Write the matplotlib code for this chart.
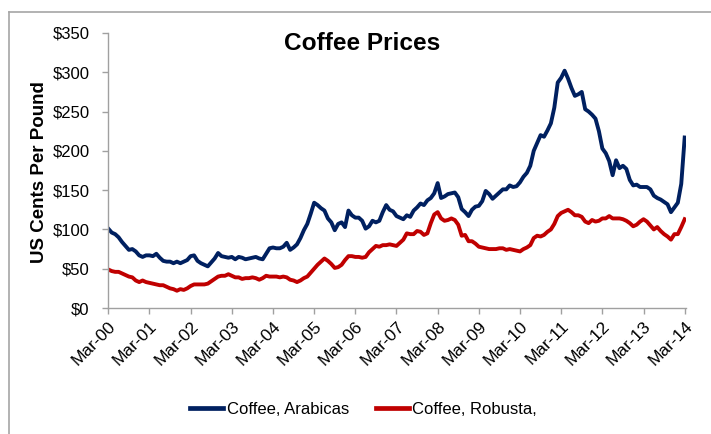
import matplotlib
matplotlib.use("Agg")
import matplotlib.pyplot as plt
from matplotlib.lines import Line2D
import numpy as np
import pandas as pd

# Monthly prices, US cents per pound, Mar-2000 .. Mar-2014
months = pd.date_range("2000-03-01", "2014-03-01", freq="MS")

arabica = [
    101, 96, 94, 90, 84, 79, 74, 75, 72, 67, 65, 67,
    67, 66, 69, 64, 60, 59, 59, 57, 59, 57, 59, 61,
    66, 67, 60, 57, 55, 53, 58, 63, 70, 66, 65, 64,
    65, 62, 65, 64, 62, 63, 64, 65, 63, 62, 69, 76,
    77, 76, 76, 78, 83, 74, 77, 81, 89, 99, 107, 120,
    134, 131, 127, 124, 114, 109, 99, 107, 109, 103, 124, 118,
    115, 115, 111, 101, 104, 111, 109, 111, 122, 131, 125, 123,
    117, 115, 113, 118, 116, 124, 128, 133, 131, 137, 140, 146,
    159, 140, 142, 145, 146, 147, 141, 126, 122, 117, 125, 129,
    130, 136, 149, 145, 139, 143, 147, 151, 151, 156, 154, 155,
    160, 167, 172, 181, 200, 210, 220, 218, 226, 235, 255, 287,
    293, 302, 292, 280, 270, 272, 275, 253, 250, 246, 241, 225,
    203, 197, 187, 169, 188, 178, 181, 177, 163, 156, 157, 154,
    154, 154, 151, 143, 140, 138, 135, 132, 122, 128, 134, 158,
    217,
]

robusta = [
    49, 47, 46, 46, 44, 42, 40, 39, 35, 33, 35, 33,
    32, 31, 30, 29, 29, 27, 25, 24, 22, 24, 23, 25,
    28, 30, 30, 30, 30, 31, 34, 37, 40, 41, 41, 43,
    41, 39, 39, 37, 38, 38, 39, 38, 36, 38, 41, 40,
    40, 40, 39, 40, 39, 36, 35, 33, 35, 38, 40, 45,
    50, 55, 59, 63, 60, 56, 51, 52, 55, 61, 66, 66,
    65, 65, 64, 65, 71, 75, 79, 78, 80, 80, 81, 80,
    79, 83, 87, 95, 94, 94, 98, 97, 93, 95, 108, 119,
    122, 114, 111, 112, 114, 112, 106, 92, 93, 85, 85, 82,
    78, 77, 76, 75, 75, 75, 76, 76, 74, 75, 74, 73,
    72, 75, 77, 80, 89, 92, 91, 93, 97, 100, 107, 117,
    121, 123, 125, 122, 118, 118, 116, 110, 108, 112, 110, 111,
    114, 114, 117, 114, 114, 114, 113, 111, 108, 104, 106, 110,
    113, 110, 105, 100, 103, 98, 94, 91, 87, 94, 94, 103,
    113,
]

series_names = ["Coffee, Arabicas", "Coffee, Robusta,"]
series_colors = ["#002060", "#C00000"]

y_ticks = [0, 50, 100, 150, 200, 250, 300, 350]
y_tick_labels = ["$0", "$50", "$100", "$150", "$200", "$250", "$300", "$350"]
x_tick_labels = ["Mar-00", "Mar-01", "Mar-02", "Mar-03", "Mar-04", "Mar-05",
                 "Mar-06", "Mar-07", "Mar-08", "Mar-09", "Mar-10", "Mar-11",
                 "Mar-12", "Mar-13", "Mar-14"]

plt.rcParams["font.family"] = ["Liberation Sans", "DejaVu Sans"]

W, H = 711, 434
fig = plt.figure(figsize=(W / 100, H / 100), dpi=100)

# outer chart frame (top and left edges visible)
frame_kw = dict(color="#A6A6A6", lw=1.2, transform=fig.transFigure)
fig.add_artist(Line2D([9 / W, 1.0], [1 - 12 / H, 1 - 12 / H], **frame_kw))
fig.add_artist(Line2D([9 / W, 9 / W], [1 - 12 / H, 0.0], **frame_kw))

left, right, top, bottom = 108.3, 686.4, 33.0, 308.0
ax = fig.add_axes([left / W, 1 - bottom / H, (right - left) / W, (bottom - top) / H])

x = np.arange(len(months))
ax.plot(x, arabica, color=series_colors[0], lw=2.8, solid_joinstyle="round")
ax.plot(x, robusta, color=series_colors[1], lw=2.8, solid_joinstyle="round")

ax.set_xlim(0, 168.5)
ax.set_ylim(0, 350)

for s in ["top", "right"]:
    ax.spines[s].set_visible(False)
for s in ["left", "bottom"]:
    ax.spines[s].set_color("#A0A0A0")
    ax.spines[s].set_linewidth(1.0)

ax.set_yticks(y_ticks)
ax.set_yticklabels(y_tick_labels, fontsize=12)
ax.tick_params(axis="y", direction="out", length=4.5, width=1.0, color="#A0A0A0", pad=9)

ax.set_xticks(x[::12])
ax.set_xticklabels(x_tick_labels, fontsize=12.5, rotation=45,
                   ha="right", va="top", rotation_mode="anchor")
ax.tick_params(axis="x", direction="out", length=4.5, width=1.0, color="#A0A0A0", pad=3)

fig.text(362.5 / W, 1 - 44 / H, "Coffee Prices", fontsize=17.6, fontweight="bold",
         ha="center", va="center")
fig.text(40 / W, 1 - 172 / H, "US Cents Per Pound", fontsize=13.5, fontweight="bold",
         rotation=90, ha="center", va="center")

handles = [Line2D([], [], color=c, lw=3.4) for c in series_colors]
fig.legend(handles, series_names, loc="center", bbox_to_anchor=(363.5 / W, 1 - 409 / H),
           ncol=2, frameon=False, fontsize=12, handlelength=2.0, handletextpad=0.2,
           columnspacing=1.6)

fig.savefig("out.png", dpi=100)
